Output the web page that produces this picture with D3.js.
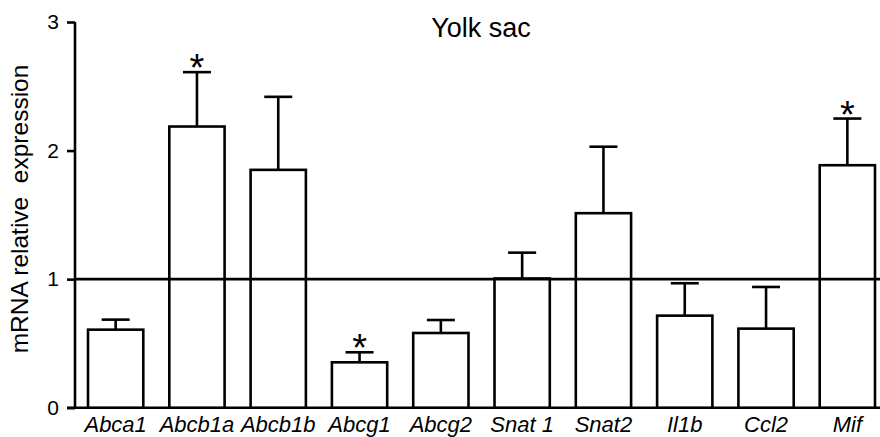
<!DOCTYPE html>
<html><head><meta charset="utf-8">
<script src="https://cdn.jsdelivr.net/npm/d3@7"></script>
<style>body{margin:0;background:#fff}svg{display:block}text{font-family:"Liberation Sans",Arial,sans-serif;fill:#000}</style>
</head><body>
<svg id="c" width="880" height="437"></svg>
<script>
const genes = ["Abca1","Abcb1a","Abcb1b","Abcg1","Abcg2","Snat 1","Snat2","Il1b","Ccl2","Mif"];
const means = [0.607,2.187,1.85,0.353,0.581,1.005,1.513,0.716,0.615,1.886];
const errors = [0.078,0.423,0.568,0.078,0.101,0.201,0.517,0.252,0.324,0.363];
const significant = [false,true,false,true,false,false,false,false,false,true];
const yTicks = [0,1,2,3];
const title = "Yolk sac";
const yLabel = "mRNA relative  expression";

const svg = d3.select("#c");
const x = d3.scaleBand().domain(genes).range([75, 888]).paddingInner(0.32).paddingOuter(0.16);
const y = d3.scaleLinear().domain([0,3]).range([407.7, 22]);
const sw = 2.6;

// y axis
const yAxis = svg.append("g").attr("transform","translate(75,0)")
  .call(d3.axisLeft(y).tickValues(yTicks).tickSize(8).tickPadding(8).tickFormat(d3.format("d")));
yAxis.select(".domain").attr("stroke","#000").attr("stroke-width",sw).attr("d",`M0,${y(3)}V${y(0)}`);
yAxis.selectAll(".tick line").attr("stroke","#000").attr("stroke-width",sw);
yAxis.selectAll(".tick text").attr("font-size",21).attr("font-family","Liberation Sans, Arial, sans-serif").attr("fill","#000");

// baseline
svg.append("line").attr("x1",67).attr("x2",880).attr("y1",y(0)).attr("y2",y(0)).attr("stroke","#000").attr("stroke-width",sw);

// bars
svg.append("g").selectAll("rect").data(genes).join("rect")
  .attr("x",d=>x(d)).attr("width",x.bandwidth())
  .attr("y",(d,i)=>y(means[i])).attr("height",(d,i)=>y(0)-y(means[i]))
  .attr("fill","#fff").attr("stroke","#000").attr("stroke-width",sw);

// reference line at 1
svg.append("line").attr("x1",75).attr("x2",880).attr("y1",y(1)).attr("y2",y(1)).attr("stroke","#000").attr("stroke-width",sw);

// error bars
const eb = svg.append("g");
genes.forEach((g,i)=>{
  const cx = x(g)+x.bandwidth()/2;
  const top = y(means[i]+errors[i]);
  eb.append("line").attr("x1",cx).attr("x2",cx).attr("y1",y(means[i])).attr("y2",top).attr("stroke","#000").attr("stroke-width",sw);
  eb.append("line").attr("x1",cx-14).attr("x2",cx+14).attr("y1",top).attr("y2",top).attr("stroke","#000").attr("stroke-width",sw);
  if(significant[i]){
    eb.append("text").attr("x",cx).attr("y",top+9).attr("text-anchor","middle").attr("font-size",38).text("*");
  }
});

// x labels
svg.append("g").selectAll("text").data(genes).join("text")
  .attr("x",d=>x(d)+x.bandwidth()/2).attr("y",432).attr("text-anchor","middle")
  .attr("font-size",22).attr("font-style","italic").text(d=>d);

// title
svg.append("text").attr("x",481).attr("y",36.5).attr("text-anchor","middle").attr("font-size",27).text(title);

// y label
svg.append("text").attr("transform","translate(28,209) rotate(-90)").attr("text-anchor","middle")
  .attr("font-size",24.5).style("white-space","pre").text(yLabel);
</script>
</body></html>
